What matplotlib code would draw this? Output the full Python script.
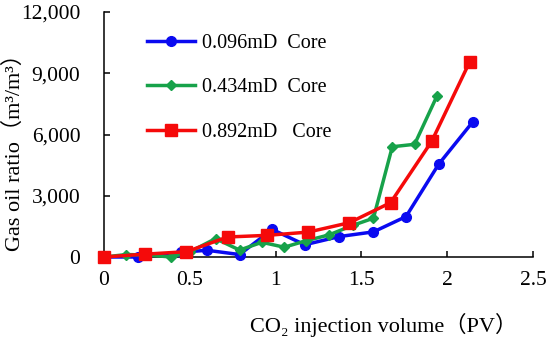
import matplotlib
matplotlib.use("Agg")
import matplotlib.pyplot as plt
from matplotlib.ticker import FuncFormatter

plt.rcParams['font.family'] = ['Liberation Serif', 'Noto Sans CJK SC', 'DejaVu Sans']

# Data
blue_x = [0, 0.20, 0.45, 0.60, 0.79, 0.98, 1.17, 1.37, 1.57, 1.76, 1.95, 2.15]
blue_y = [0, 0, 230, 330, 120, 1350, 600, 1000, 1230, 1980, 4540, 6630]

green_x = [0, 0.13, 0.25, 0.39, 0.50, 0.65, 0.79, 0.92, 1.05, 1.18, 1.31, 1.45, 1.57, 1.68, 1.81, 1.94]
green_y = [0, 120, 100, 0, 250, 900, 340, 720, 480, 800, 1080, 1550, 1900, 5400, 5520, 7880]

red_x = [0, 0.24, 0.48, 0.72, 0.95, 1.19, 1.43, 1.67, 1.91, 2.13]
red_y = [0, 140, 260, 980, 1060, 1220, 1680, 2660, 5670, 9540]

labels = ["0.096mD  Core", "0.434mD  Core", "0.892mD   Core"]
xticks = [0, 0.5, 1, 1.5, 2, 2.5]
xtick_labels = ["0", "0.5", "1", "1.5", "2", "2.5"]
yticks = [0, 3000, 6000, 9000, 12000]

fig = plt.figure(figsize=(5.5, 3.45), dpi=100)
ax = fig.add_axes([104/550, 1-257/345, 429/550, 245/345])

lw = 2.5
ax.plot(blue_x, blue_y, color='#0a0af0', lw=lw, marker='o', ms=7, label=labels[0], clip_on=False, zorder=3)
ax.plot(green_x, green_y, color='#17a24a', lw=lw, marker='D', ms=5.5, label=labels[1], clip_on=False, zorder=4)
ax.plot(red_x, red_y, color='#f50a0a', lw=lw, marker='s', ms=8, label=labels[2], clip_on=False, zorder=5)

ax.set_xlim(0, 2.5)
ax.set_ylim(0, 12000)
ax.set_xticks(xticks)
ax.set_xticklabels(xtick_labels)
ax.set_yticks(yticks)
ax.yaxis.set_major_formatter(FuncFormatter(lambda v, p: f"{int(v):,}"))

for s in ['top', 'right']:
    ax.spines[s].set_visible(False)
for s in ['left', 'bottom']:
    ax.spines[s].set_linewidth(1.1)
ax.tick_params(axis='both', direction='in', length=4, width=1.1, labelsize=15.5)
ax.tick_params(axis='y', pad=17)
ax.tick_params(axis='x', pad=10)

ax.text(14/550, 1-147/345, "Gas oil ratio（m³/m³）", transform=fig.transFigure, rotation=90,
        ha='center', va='center', fontsize=16)
ax.text(384/550, 1-325/345, "CO₂ injection volume（PV）", transform=fig.transFigure,
        ha='center', va='center', fontsize=16)

leg = ax.legend(loc='upper left', bbox_to_anchor=(147/550, 1-34/345), bbox_transform=fig.transFigure,
                frameon=False, fontsize=14.5, handlelength=2.4, handletextpad=0.35,
                labelspacing=1.25, borderpad=0, borderaxespad=0)

fig.savefig("out.png", dpi=100)
